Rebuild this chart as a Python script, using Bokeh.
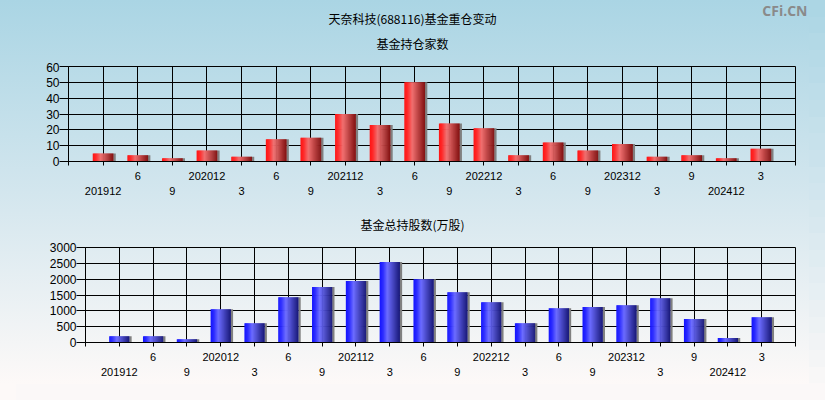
from bokeh.plotting import figure
from bokeh.models import ColumnDataSource, FixedTicker, LinearAxis, Range1d
from bokeh.layouts import column
from bokeh.transform import dodge
from bokeh.core.properties import value
from bokeh.embed import file_html
from bokeh.resources import INLINE

# ---------------- data ----------------
quarters = ["201912", "202006", "202009", "202012", "202103", "202106", "202109",
            "202112", "202203", "202206", "202209", "202212", "202303", "202306",
            "202309", "202312", "202403", "202409", "202412", "202503"]
tick_labels = ["201912", "6", "9", "202012", "3", "6", "9", "202112", "3", "6",
               "9", "202212", "3", "6", "9", "202312", "3", "9", "202412", "3"]
fund_counts = [5, 4, 2, 7, 3, 14, 15, 30, 23, 50, 24, 21, 4, 12, 7, 11, 3, 4, 2, 8]
fund_shares = [200, 200, 100, 1050, 610, 1430, 1750, 1940, 2540, 2000, 1590, 1270,
               610, 1080, 1120, 1180, 1400, 740, 140, 800]
count_ticks = [0, 10, 20, 30, 40, 50, 60]
share_ticks = [0, 500, 1000, 1500, 2000, 2500, 3000]
title_main = "天奈科技(688116)基金重仓变动"
title_top = "基金持仓家数"
title_bottom = "基金总持股数(万股)"
watermark = "CFi.CN"

W = 809
NUM_FONT = "Liberation Sans"
CJK_FONT = "Noto Sans CJK SC"

RED_STOPS = [(0.0, (255, 20, 20)), (0.15, (255, 40, 40)), (0.38, (240, 112, 112)), (1.0, (128, 16, 16))]
BLUE_STOPS = [(0.0, (20, 20, 255)), (0.15, (40, 40, 255)), (0.38, (108, 108, 255)), (1.0, (24, 24, 118))]
BG_STOPS = [(0.0, (170, 213, 228)), (0.5, (211, 230, 238)), (1.0, (253, 249, 248))]


def shade(t, stops):
    for (t0, c0), (t1, c1) in zip(stops[:-1], stops[1:]):
        if t0 <= t <= t1:
            f = (t - t0) / (t1 - t0) if t1 > t0 else 0
            r, g, b = (int(round(a + (bb - a) * f)) for a, bb in zip(c0, c1))
            return "#%02x%02x%02x" % (r, g, b)
    r, g, b = stops[-1][1]
    return "#%02x%02x%02x" % (r, g, b)


def header(height, texts):
    """A bare strip (no axes) holding title texts; coords are pixels."""
    h = figure(width=W, height=height, x_range=Range1d(0, W), y_range=Range1d(0, height),
               output_backend="svg", toolbar_location=None,
               min_border=0, background_fill_color=None, border_fill_color=None,
               outline_line_color=None, frame_align=False)
    h.axis.visible = False
    h.grid.visible = False
    for txt, x, y, align, font, size, style, color in texts:
        h.text(x=[x], y=[y], text=[txt], text_align=align, text_baseline="middle",
               text_font=value(font), text_font_size=size, text_font_style=style,
               text_color=color)
    return h


def make_chart(values, y_ticks, left, top, bottom, stops):
    n = len(values)
    height = top + 95 + bottom
    p = figure(width=W, height=height, x_range=Range1d(0, n + 1),
               y_range=Range1d(y_ticks[0], y_ticks[-1]),
               output_backend="svg", toolbar_location=None,
               min_border_left=left, min_border_right=W - 795,
               min_border_top=top, min_border_bottom=bottom,
               background_fill_color=None, border_fill_color=None,
               outline_line_color="black", outline_line_width=1,
               frame_align=False)

    p.xgrid.ticker = FixedTicker(ticks=list(range(1, n + 1)))
    p.ygrid.ticker = FixedTicker(ticks=y_ticks)
    for g in (p.xgrid[0], p.ygrid[0]):
        g.grid_line_color = "black"
        g.grid_line_alpha = 1.0
        g.grid_line_width = 1

    ya = p.yaxis[0]
    ya.ticker = FixedTicker(ticks=y_ticks)
    ya.major_tick_out = 9
    ya.major_tick_in = 0
    ya.minor_tick_out = 0
    ya.minor_tick_in = 0
    ya.major_label_standoff = 0
    ya.major_label_text_font = NUM_FONT
    ya.major_label_text_font_size = "12px"
    ya.major_label_text_color = "black"
    ya.axis_line_color = "black"
    ya.major_tick_line_color = "black"

    upper = {i: "" for i in range(0, n + 2)}
    lower = {i: "" for i in range(0, n + 2)}
    for i, lab in enumerate(tick_labels):
        if i % 2 == 1:
            upper[i + 1] = lab
        else:
            lower[i + 1] = lab

    xa = p.xaxis[0]
    xa.ticker = FixedTicker(ticks=list(range(0, n + 2)))
    xa.major_label_overrides = upper
    xa.major_tick_out = 4
    xa.major_tick_in = 0
    xa.minor_tick_out = 0
    xa.minor_tick_in = 0
    xa.major_label_standoff = 6
    xa.major_label_text_font = NUM_FONT
    xa.major_label_text_font_size = "11px"
    xa.major_label_text_color = "black"
    xa.axis_line_color = "black"
    xa.major_tick_line_color = "black"

    xb = LinearAxis(ticker=FixedTicker(ticks=list(range(0, n + 2))),
                    major_label_overrides=lower,
                    major_tick_out=0, major_tick_in=0,
                    minor_tick_out=0, minor_tick_in=0,
                    axis_line_color=None, major_tick_line_color=None,
                    major_label_standoff=4,
                    major_label_text_font=NUM_FONT,
                    major_label_text_font_size="11px",
                    major_label_text_color="black")
    p.add_layout(xb, "below")

    src = ColumnDataSource(dict(x=list(range(1, n + 1)), top=values))
    bw = 0.6
    k = 20
    sw = bw / k
    p.vbar(x=dodge("x", bw / 2 + 0.03, range=None), top="top", bottom=0,
           width=0.07, source=src, fill_color="#808080", line_color=None)
    for j in range(k):
        t = (j + 0.5) / k
        c = shade(t, stops)
        off = -bw / 2 + (j + 0.5) * sw
        wj = sw * 1.6 if j < k - 1 else sw
        offj = off + (wj - sw) / 2
        p.vbar(x=dodge("x", offj, range=None), top="top", bottom=0,
               width=wj, source=src, fill_color=c, line_color=None)
    return p


h1 = header(62, [
    (title_main, 412, 62 - 18, "center", CJK_FONT, "12px", "normal", "black"),
    (title_top, 412, 62 - 43, "center", CJK_FONT, "12px", "normal", "black"),
    (watermark, 807, 62 - 10, "right", "Open Sans", "14px", "bold", "#8a8a8a"),
])
p1 = make_chart(fund_counts, count_ticks, 68, 4, 40, RED_STOPS)
h2 = header(41, [
    (title_bottom, 412, 41 - 23, "center", CJK_FONT, "12px", "normal", "black"),
])
p2 = make_chart(fund_shares, share_ticks, 85, 5, 384 - 342, BLUE_STOPS)

# background gradient; the strips beyond the layout (page edge) are painted
# with stepped box-shadows so the gradient reaches the window edges
H = 384
bands = []
nb = 24
for b in range(nb):
    y_end = (b + 1) * 400 / nb
    col = shade((b + 0.5) / nb, BG_STOPS)
    bands.append("16px %dpx 0 0 %s" % (int(round(y_end - H)), col))
bands.append("0 16px 0 0 #fdf9f8")
shadow = ", ".join(bands)

layout = column(h1, p1, h2, p2, spacing=0,
                styles={"background": "linear-gradient(to bottom, #aad5e4 0%, #d3e6ee 50%, #fdf9f8 100%)",
                        "box-shadow": shadow})

open("out.html", "w").write(file_html(layout, INLINE))
